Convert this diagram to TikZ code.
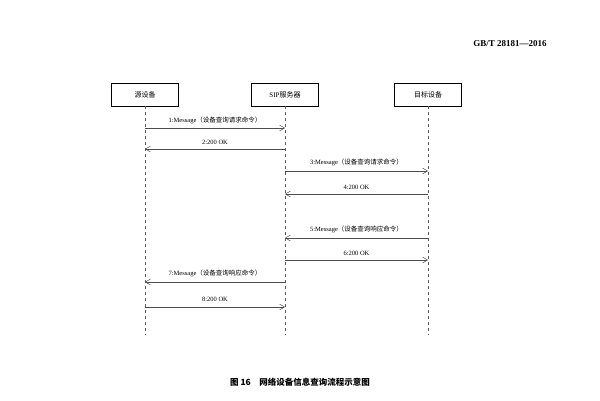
\documentclass[tikz,border=0pt]{standalone}
\usepackage{fontspec}
\setmainfont{Liberation Serif}
\newfontfamily\cjk{Noto Sans CJK SC}
\usetikzlibrary{arrows.meta}
\begin{document}
\begin{tikzpicture}[x=1pt,y=-1pt,
  actor/.style={draw,line width=0.8pt,minimum width=67pt,minimum height=23pt,font=\fontsize{7}{8}\selectfont},
  life/.style={dashed,line width=0.4pt,gray!70!black},
  msg/.style={draw=gray!60!black,line width=0.5pt,-{Straight Barb[length=5pt,width=6pt]}},
  lbl/.style={font=\fontsize{6.5}{7}\selectfont,inner sep=0pt}]
\useasboundingbox (0,0) rectangle (600,400);
\node[font=\bfseries\fontsize{9}{10}\selectfont] (hdr) at (510,44) {GB/T 28181—2016};
\node[actor] (A) at (145,94.5) {\cjk 源设备};
\node[actor] (B) at (285,94.5) {SIP\cjk 服务器};
\node[actor] (C) at (428,94.5) {\cjk 目标设备};
\coordinate (Ae) at (145,335); \coordinate (Be) at (285,335); \coordinate (Ce) at (428,335);
\draw[life] (A.south) -- (Ae);
\draw[life] (B.south) -- (Be);
\draw[life] (C.south) -- (Ce);
\foreach \n/\y in {1/128,2/149,3/171,4/194,5/238,6/260,7/282,8/307}{
  \coordinate (a\n) at (145,\y); \coordinate (b\n) at (285,\y); \coordinate (c\n) at (428,\y);}
\draw[msg] (a1) -- node[lbl,above=4pt] (l1) {1:Message{\cjk（设备查询请求命令）}} (b1);
\draw[msg] (b2) -- node[lbl,above=4pt] (l2) {2:200 OK} (a2);
\draw[msg] (b3) -- node[lbl,above=5pt] (l3) {3:Message{\cjk（设备查询请求命令）}} (c3);
\draw[msg] (c4) -- node[lbl,above=4pt] (l4) {4:200 OK} (b4);
\draw[msg] (c5) -- node[lbl,above=5pt] (l5) {5:Message{\cjk（设备查询响应命令）}} (b5);
\draw[msg] (b6) -- node[lbl,above=4pt] (l6) {6:200 OK} (c6);
\draw[msg] (b7) -- node[lbl,above=5pt] (l7) {7:Message{\cjk（设备查询响应命令）}} (a7);
\draw[msg] (a8) -- node[lbl,above=5pt] (l8) {8:200 OK} (b8);
\node[font=\fontsize{8.5}{10}\selectfont] (cap) at (300,382) {\textbf{\cjk 图 16\quad 网络设备信息查询流程示意图}};
\end{tikzpicture}
\end{document}
